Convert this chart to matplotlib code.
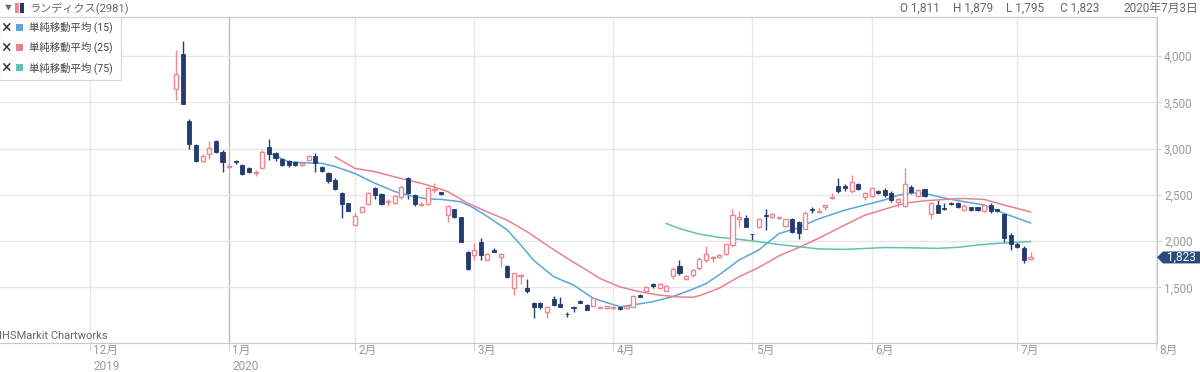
import numpy as np
import pandas as pd
import matplotlib
matplotlib.use('Agg')
from matplotlib import pyplot as plt
from matplotlib.patches import Rectangle, Polygon

plt.rcParams['font.family'] = ['Roboto', 'Noto Sans CJK JP', 'DejaVu Sans']

title = 'ランディクス(2981)'
last_day = '2020年7月3日'
ma_labels = ['単純移動平均 (15)', '単純移動平均 (25)', '単純移動平均 (75)']
month_labels = ['12月\n2019', '1月\n2020', '2月', '3月', '4月', '5月', '6月', '7月', '8月']

# 東証の休場日
holidays = ['2019-12-31', '2020-01-01', '2020-01-02', '2020-01-03', '2020-01-13',
            '2020-02-11', '2020-02-24', '2020-03-20', '2020-04-29', '2020-05-04',
            '2020-05-05', '2020-05-06', '2020-07-23', '2020-07-24']
first_day = '2019-12-19'

# 日足 (2019-12-19 .. 2020-07-03)
opens = [3640, 4020, 3300, 3040, 2870, 2940, 3080, 2965, 2800, 2870,
         2820, 2785, 2735, 2795, 3020, 2950, 2885, 2870, 2850, 2820,
         2875, 2920, 2805, 2740, 2665, 2520, 2410, 2175, 2315, 2400,
         2570, 2510, 2420, 2415, 2480, 2680, 2495, 2395, 2400, 2550,
         2525, 2280, 2345, 2255, 1885, 1850, 1995, 1795, 1905, 1830,
         1730, 1490, 1625, 1490, 1335, 1335, 1235, 1370, 1320, 1215,
         1290, 1355, 1310, 1300, 1280, 1275, 1275, 1290, 1275, 1290,
         1420, 1465, 1535, 1490, 1465, 1620, 1730, 1585, 1635, 1705,
         1790, 1815, 1825, 1860, 1955, 2235, 2245, 2080, 2150, 2285,
         2255, 2245, 2160, 2235, 2210, 2135, 2345, 2310, 2365, 2470,
         2590, 2590, 2545, 2615, 2480, 2490, 2545, 2550, 2515, 2425,
         2380, 2585, 2490, 2560, 2290, 2390, 2355, 2410, 2415, 2335,
         2365, 2365, 2320, 2390, 2345, 2290, 2065, 1970, 1930, 1811]
highs = [4060, 4160, 3320, 3050, 2940, 3080, 3095, 2985, 2840, 2880,
         2830, 2800, 2770, 2980, 3100, 2960, 2890, 2880, 2860, 2845,
         2930, 2950, 2815, 2750, 2680, 2530, 2415, 2300, 2375, 2530,
         2580, 2520, 2460, 2495, 2605, 2695, 2505, 2420, 2580, 2630,
         2535, 2385, 2350, 2260, 1890, 1980, 2030, 1875, 1925, 1870,
         1740, 1660, 1645, 1585, 1340, 1345, 1300, 1405, 1400, 1235,
         1295, 1365, 1315, 1385, 1295, 1300, 1295, 1295, 1300, 1410,
         1425, 1515, 1545, 1550, 1520, 1715, 1800, 1630, 1695, 1825,
         1945, 1840, 1855, 1970, 2345, 2330, 2280, 2080, 2245, 2345,
         2300, 2265, 2240, 2245, 2215, 2320, 2370, 2355, 2390, 2520,
         2680, 2615, 2715, 2625, 2535, 2575, 2550, 2570, 2545, 2470,
         2795, 2605, 2560, 2565, 2420, 2445, 2415, 2420, 2420, 2400,
         2370, 2370, 2395, 2410, 2350, 2300, 2085, 1995, 1945, 1879]
lows = [3530, 3480, 3000, 2850, 2850, 2890, 2950, 2750, 2790, 2835,
        2710, 2740, 2705, 2790, 2875, 2860, 2810, 2800, 2810, 2815,
        2865, 2750, 2750, 2630, 2550, 2245, 2320, 2170, 2310, 2395,
        2450, 2390, 2380, 2405, 2450, 2450, 2375, 2380, 2395, 2515,
        2500, 2210, 2250, 1990, 1690, 1800, 1795, 1790, 1880, 1720,
        1600, 1415, 1540, 1435, 1165, 1270, 1165, 1295, 1285, 1180,
        1235, 1325, 1250, 1295, 1275, 1270, 1270, 1255, 1270, 1285,
        1390, 1455, 1490, 1485, 1460, 1585, 1630, 1580, 1615, 1685,
        1775, 1775, 1820, 1850, 1940, 2155, 2150, 2010, 2140, 2120,
        2250, 2240, 2155, 2090, 2020, 2130, 2300, 2305, 2340, 2450,
        2520, 2545, 2515, 2550, 2445, 2480, 2510, 2480, 2425, 2370,
        2370, 2510, 2480, 2480, 2235, 2300, 2340, 2395, 2360, 2330,
        2330, 2330, 2315, 2305, 2310, 1980, 1905, 1920, 1765, 1795]
closes = [3810, 3480, 3050, 2870, 2920, 3010, 2965, 2850, 2815, 2850,
          2725, 2750, 2745, 2965, 2940, 2895, 2820, 2825, 2825, 2840,
          2920, 2845, 2760, 2645, 2560, 2400, 2330, 2270, 2365, 2515,
          2500, 2400, 2430, 2485, 2580, 2515, 2400, 2405, 2570, 2560,
          2505, 2380, 2255, 1995, 1695, 1905, 1850, 1865, 1885, 1865,
          1610, 1650, 1635, 1455, 1285, 1285, 1285, 1310, 1290, 1210,
          1275, 1335, 1255, 1380, 1285, 1295, 1290, 1265, 1295, 1405,
          1395, 1500, 1515, 1540, 1515, 1695, 1660, 1620, 1685, 1810,
          1860, 1825, 1850, 1965, 2280, 2255, 2155, 2075, 2235, 2270,
          2290, 2255, 2235, 2100, 2085, 2300, 2340, 2320, 2390, 2480,
          2545, 2570, 2640, 2560, 2515, 2570, 2515, 2500, 2445, 2450,
          2615, 2535, 2550, 2490, 2410, 2305, 2350, 2405, 2365, 2380,
          2335, 2340, 2390, 2320, 2320, 2030, 1970, 1940, 1800, 1823]

# 移動平均 (チャートから読み取り, 位置は上場日からの営業日数)
ma15_day = [14, 17, 20, 22, 24, 27, 30, 33, 36, 38, 40, 43, 45, 47, 50, 52, 54, 57, 60, 63,
            67, 69, 72, 75, 78, 80, 82, 85, 88, 91, 94, 97, 101, 104, 107, 109, 111, 113,
            116, 119, 122, 125, 129]
ma15 = [2955, 2855, 2845, 2840, 2805, 2730, 2625, 2535, 2480, 2455, 2450, 2425, 2355, 2265,
        2120, 1960, 1790, 1615, 1525, 1380, 1290, 1310, 1345, 1400, 1480, 1540, 1635, 1795,
        1905, 2080, 2145, 2240, 2335, 2390, 2445, 2495, 2520, 2515, 2465, 2425, 2390, 2300, 2195]
ma25_day = [24, 27, 30, 34, 37, 40, 41, 44, 47, 50, 53, 56, 59, 62, 64, 67, 70, 73, 76, 78,
            79, 82, 85, 88, 91, 94, 97, 101, 104, 107, 110, 113, 116, 119, 122, 125, 129]
ma25 = [2910, 2785, 2750, 2675, 2625, 2560, 2535, 2410, 2315, 2225, 2100, 1955, 1815, 1685,
        1595, 1505, 1452, 1415, 1395, 1392, 1410, 1490, 1615, 1715, 1840, 1930, 2030, 2175,
        2280, 2345, 2410, 2435, 2450, 2460, 2450, 2390, 2315]
ma75_day = [74, 76, 79, 82, 85, 88, 91, 94, 97, 101, 104, 107, 111, 115, 118, 121, 124, 129]
ma75 = [2190, 2135, 2075, 2040, 2018, 1993, 1962, 1939, 1915, 1910, 1920, 1930, 1927, 1921,
        1932, 1957, 1975, 1995]

NAVY = '#243b6e'
RED = '#ef8790'
MA_COLORS = ['#5aa6d8', '#e8828f', '#63c1b0']
GRAY = '#9a9a9a'

days = pd.bdate_range('2019-12-02', '2020-08-03', freq='C', holidays=holidays)
start = days.get_loc(pd.Timestamp(first_day))
months = np.asarray(days.month)
month_pos = np.flatnonzero(np.r_[True, months[1:] != months[:-1]])

o = np.array(opens)
h = np.array(highs)
l = np.array(lows)
c = np.array(closes)
x = start + np.arange(len(c))
up = c > o

W, H = 1200, 372
fig = plt.figure(figsize=(W / 100, H / 100), dpi=100)
ax = fig.add_axes([0, 1 - 343 / H, 1157 / W, (343 - 17) / H])
ax.set_xlim(-13.6, 161.1)
ax.set_ylim(898, 4422)

# グリッド
ax.set_yticks([1500, 2000, 2500, 3000, 3500, 4000])
ax.yaxis.tick_right()
ax.set_yticklabels([f'{v:,}' for v in ax.get_yticks()])
ax.tick_params(axis='y', length=3, color='#cfcfcf', labelcolor=GRAY, labelsize=8.5, pad=2)
ax.grid(axis='y', color='#e6e6e6', lw=1, zorder=0)
for p in month_pos:
    ax.axvline(p, color='#bdbdbd' if months[p] == 1 else '#e8e8e8', lw=1, zorder=0)
ax.set_xticks(month_pos)
ax.set_xticklabels([])
ax.tick_params(axis='x', length=5, color='#d0d0d0')
for p, lab in zip(month_pos, month_labels):
    ax.text(p + 0.5, -0.004, lab, transform=ax.get_xaxis_transform(), ha='left', va='top',
            fontsize=8.5, color=GRAY, linespacing=1.25)

for side in ['top', 'right', 'bottom']:
    ax.spines[side].set_color('#c8c8c8')
ax.spines['left'].set_visible(False)

# ローソク足
body_lo = np.minimum(o, c)
body_h = np.maximum(np.abs(c - o), 6)
ax.vlines(x, l, h, colors=np.where(up, RED, NAVY), lw=1, zorder=2)
for d, v, col in zip([ma15_day, ma25_day, ma75_day], [ma15, ma25, ma75], MA_COLORS):
    ax.plot(start + np.array(d), v, color=col, lw=1.1, zorder=2.5)
ax.bar(x[up], body_h[up], bottom=body_lo[up], width=0.62, facecolor='white',
       edgecolor=RED, lw=1, zorder=3)
ax.bar(x[~up], body_h[~up], bottom=body_lo[~up], width=0.62, facecolor=NAVY,
       edgecolor=NAVY, lw=0.6, zorder=3)

fig.text(-0.001, 1 - 336 / H, 'IHSMarkit Chartworks', fontsize=8, color='#666666', va='center')

# ヘッダー
fig.text(5 / W, 1 - 8 / H, '▼', fontsize=5, color='#666666', va='center')
fig.patches.append(Rectangle((15 / W, 1 - 13 / H), 4 / W, 10 / H, transform=fig.transFigure,
                             fc=RED, ec='none'))
fig.patches.append(Rectangle((19.5 / W, 1 - 13 / H), 4.5 / W, 10 / H, transform=fig.transFigure,
                             fc=NAVY, ec='none'))
fig.text(29 / W, 1 - 8 / H, title, fontsize=8, color='#666666', va='center')
for px, s in zip([900, 953, 1006, 1060], [f'O {opens[-1]:,}', f'H {highs[-1]:,}',
                                          f'L {lows[-1]:,}', f'C {closes[-1]:,}']):
    fig.text(px / W, 1 - 8 / H, s, fontsize=8.5, color='#666666', va='center')
fig.text(1198 / W, 1 - 8 / H, last_day, fontsize=8.5, color='#666666', va='center', ha='right')

# 凡例
fig.patches.append(Rectangle((-1 / W, 1 - 80 / H), 122 / W, 63 / H, transform=fig.transFigure,
                             fc='white', ec='#d6d6d6', lw=0.8, zorder=5))
for i, (lab, col) in enumerate(zip(ma_labels, MA_COLORS)):
    yc = 27.5 + 20.2 * i
    fig.text(6 / W, 1 - yc / H, '×', fontsize=13, color='#333333', ha='center', va='center',
             zorder=6)
    fig.patches.append(Rectangle((16 / W, 1 - (yc + 3.5) / H), 7 / W, 7 / H,
                                 transform=fig.transFigure, fc=col, ec='none', zorder=6))
    fig.text(29 / W, 1 - yc / H, lab, fontsize=7.5, color='#444444', va='center', zorder=6)

# 終値タグ
yp = ax.transData.transform((0, closes[-1]))[1]
tag = [(1157, yp), (1163, yp + 6), (1200, yp + 6), (1200, yp - 6), (1163, yp - 6)]
fig.patches.append(Polygon([(a / W, b / H) for a, b in tag], closed=True,
                           transform=fig.transFigure, fc='#2b4a7c', ec='none', zorder=6))
fig.text(1167 / W, yp / H, f'{closes[-1]:,}', fontsize=8.5, color='white', va='center', zorder=7)

fig.savefig('out.png', dpi=100)
